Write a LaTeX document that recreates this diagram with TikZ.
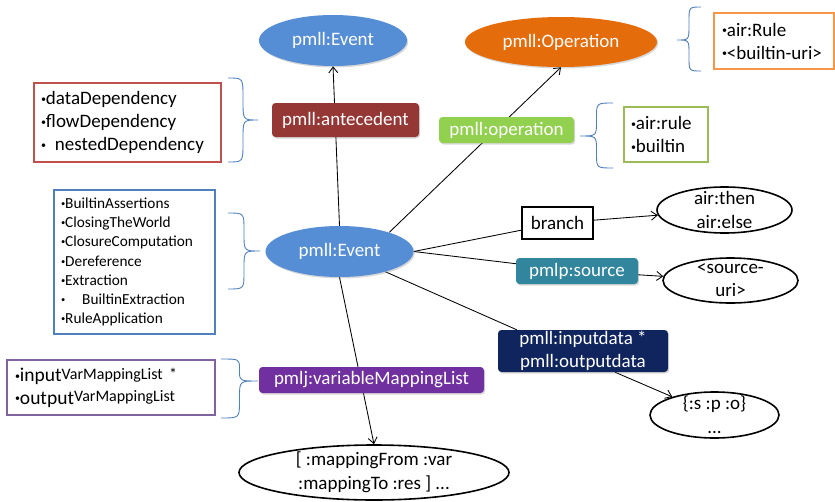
\documentclass[tikz,border=0pt]{standalone}
\usepackage{fontspec}
\setmainfont{Carlito}
\usetikzlibrary{shapes.geometric,calc,shadows,arrows.meta}
\definecolor{evblue}{RGB}{85,142,213}
\definecolor{antred}{RGB}{149,55,53}
\definecolor{oporange}{RGB}{228,108,10}
\definecolor{opgreen}{RGB}{146,208,80}
\definecolor{srcteal}{RGB}{49,133,156}
\definecolor{lblnavy}{RGB}{16,37,94}
\definecolor{purp}{RGB}{112,48,160}
\definecolor{boxred}{RGB}{192,80,77}
\definecolor{boxorange}{RGB}{247,150,70}
\definecolor{boxgreen}{RGB}{155,187,89}
\definecolor{boxblue}{RGB}{79,129,189}
\definecolor{boxpurple}{RGB}{128,100,162}
\definecolor{bracecol}{RGB}{79,129,189}
\pgfdeclarelayer{bgzero}\pgfdeclarelayer{edges}\pgfsetlayers{bgzero,edges,main}
\newcommand{\mybul}{{\fontsize{10}{10}\selectfont\raisebox{2.5pt}{•}}}
\newcommand{\mysbul}{{\fontsize{8.5}{8.5}\selectfont\raisebox{2pt}{•}}}
\newcommand{\mybrace}[5]{%
 \pgfmathsetmacro{\bxm}{(#1+#4)/2}%
 \pgfmathsetmacro{\bqa}{(#5-#2)*0.45}%
 \pgfmathsetmacro{\bqb}{(#3-#5)*0.45}%
 \draw[brc] (#1,#2) .. controls (\bxm,#2) .. (\bxm,#2+\bqa) -- (\bxm,#5-\bqa) .. controls (\bxm,#5) .. (#4,#5) .. controls (\bxm,#5) .. (\bxm,#5+\bqb) -- (\bxm,#3-\bqb) .. controls (\bxm,#3) .. (#1,#3);}
\begin{document}
\begin{tikzpicture}[x=1pt,y=-1pt,
  big/.style={font=\fontsize{19}{23}\selectfont},
  shad/.style={drop shadow={opacity=0.3,shadow xshift=1.2pt,shadow yshift=-1.5pt}},
  evell/.style={ellipse,fill=evblue,text=white,inner sep=0,minimum width=148,minimum height=51,big,shad},
  lbl/.style={rounded corners=3.5pt,text=white,inner sep=0,align=center,big,shad},
  well/.style={ellipse,draw=black,line width=1.6pt,fill=white,inner sep=0},
  txt/.style={align=center,inner sep=0,big},
  lst/.style={draw,line width=1.3pt,fill=white,align=left,inner ysep=0,inner xsep=8pt},
  edge/.style={draw=black,line width=0.85pt},
  arr/.style={-{Straight Barb[length=6pt,width=9pt]}},
  brc/.style={draw=bracecol,line width=0.9pt}]
\begin{pgfonlayer}{bgzero}
\fill[white] (0,0) rectangle (835,501);
\end{pgfonlayer}
\useasboundingbox (0,0) rectangle (835,501);

% ellipses
\node[evell] (topev) at (333,40.5) {pmll:Event};
\node[evell,fill=oporange,minimum width=192,minimum height=50] (op) at (561,42) {pmll:Operation};
\node[evell] (ev) at (339.5,251.5) {pmll:Event};

% labels
\node[lbl,fill=antred,minimum width=147,minimum height=34] (ant) at (345.5,120) {pmll:antecedent};
\node[lbl,fill=opgreen,minimum width=135,minimum height=26] (opl) at (506.5,130) {pmll:operation};
\node[draw,line width=1.3pt,fill=white,minimum width=71,minimum height=32,inner sep=0,big] (branch) at (557.5,223) {branch};
\node[lbl,fill=srcteal,minimum width=122,minimum height=26] (src) at (577,271) {pmlp:source};
\node[lbl,fill=lblnavy,minimum width=170,minimum height=42] (inp) at (583,351) {pmll:inputdata *\\pmll:outputdata};
\node[lbl,fill=purp,minimum width=225,minimum height=26] (vml) at (371.5,380) {pmlj:variableMappingList};

% white ellipses
\node[well,minimum width=135,minimum height=46] (then) at (724.5,210) {};
\node[txt,font=\fontsize{19}{24}\selectfont] (thent) at (then) {air:then\\air:else};
\node[well,minimum width=135,minimum height=45] (uri) at (730.5,280.5) {};
\node[txt] (urit) at (uri) {<source-\\uri>};
\node[well,minimum width=129,minimum height=46] (spo) at (714.5,415) {};
\node[txt,font=\fontsize{19}{24}\selectfont] (spot) at (spo) {\{:s :p :o\}\\...};
\node[well,minimum width=270,minimum height=55] (bot) at (374,472.5) {};
\node[txt,font=\fontsize{19}{24}\selectfont] (bott) at (bot) {[ :mappingFrom :var\\:mappingTo :res ] ...};

% list boxes
\node[lst,draw=boxred,big,text width=173,inner xsep=7pt,minimum height=79] (redbox) at (127.5,122.5)
  {\mybul dataDependency\\\mybul flowDependency\\\mybul\hspace{9pt}nestedDependency};
\node[lst,draw=boxblue,font=\fontsize{15.3}{19.2}\selectfont,text width=147,inner xsep=7pt,minimum height=144] (bluebox) at (134.5,262)
  {\mysbul BuiltinAssertions\\\mysbul ClosingTheWorld\\\mysbul ClosureComputation\\\mysbul Dereference\\\mysbul Extraction\\\mysbul\hspace{17pt}BuiltinExtraction\\\mysbul RuleApplication};
\node[lst,draw=boxpurple,font=\fontsize{19.5}{22.5}\selectfont,inner xsep=8pt,text width=192,minimum height=55] (purpbox) at (111,387.5)
  {\mybul input\raisebox{2.5pt}{\fontsize{16}{16}\selectfont VarMappingList *}\\\mybul output\raisebox{2.5pt}{\fontsize{16}{16}\selectfont VarMappingList}};
\node[lst,draw=boxorange,big,inner xsep=8pt,text width=104,minimum height=56] (orbox) at (774,41)
  {\mybul air:Rule\\\mybul <builtin-uri>};
\node[lst,draw=boxgreen,big,inner xsep=7pt,text width=70,minimum height=55] (grbox) at (666,134.5)
  {\mybul air:rule\\\mybul builtin};

% braces
\mybrace{228}{78}{162}{258}{120}
\mybrace{701}{7}{71}{677}{40}
\mybrace{613}{103}{168}{580}{136}
\mybrace{228}{213}{289}{260}{251}
\mybrace{221}{359}{418}{258}{381}

% connectors
\begin{pgfonlayer}{edges}
\draw[edge,arr] (ev.north) -- (topev.south);
\draw[edge,arr] (ev.21) -- (op.south);
\draw[edge] (ev.east) -- (branch);
\draw[edge,arr] (branch) -- (then);
\draw[edge] (ev.east) -- (src);
\draw[edge,arr] (src) -- (uri);
\draw[edge] (ev) -- ($(inp.north west)+(19,0)$);
\draw[edge,arr] ($(inp.south)+(32,0)$) -- (spo);
\draw[edge,arr] (ev.south) -- (bot.north);
\end{pgfonlayer}
\end{tikzpicture}
\end{document}
